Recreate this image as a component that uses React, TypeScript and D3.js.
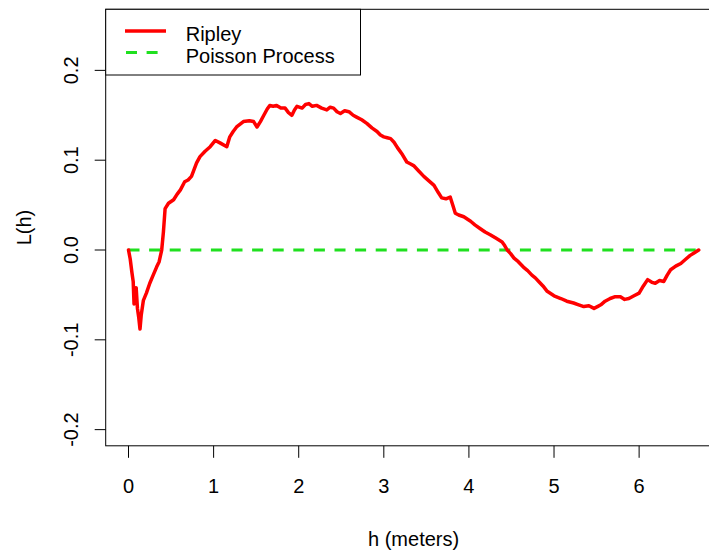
import React from "react";
import * as d3 from "d3";

const hValues = [0,0.02,0.04,0.055,0.065,0.075,0.09,0.105,0.12,0.135,0.15,0.175,0.21,0.25,0.29,0.33,0.36,0.39,0.41,0.43,0.47,0.53,0.57,0.61,0.66,0.70,0.74,0.80,0.84,0.90,0.96,1.02,1.08,1.155,1.19,1.23,1.27,1.35,1.42,1.47,1.51,1.55,1.59,1.63,1.66,1.70,1.74,1.79,1.84,1.88,1.92,1.95,1.98,2.04,2.08,2.12,2.16,2.21,2.27,2.33,2.37,2.41,2.45,2.49,2.54,2.59,2.64,2.68,2.74,2.80,2.86,2.92,2.96,3.00,3.04,3.08,3.12,3.16,3.22,3.27,3.31,3.35,3.41,3.47,3.53,3.59,3.64,3.68,3.73,3.78,3.81,3.84,3.88,3.94,4.02,4.07,4.13,4.19,4.25,4.32,4.39,4.42,4.45,4.49,4.53,4.58,4.64,4.69,4.74,4.78,4.82,4.87,4.92,5.00,5.08,5.15,5.23,5.29,5.35,5.41,5.47,5.51,5.55,5.60,5.66,5.72,5.78,5.83,5.88,5.94,6.00,6.05,6.10,6.15,6.19,6.24,6.29,6.33,6.37,6.43,6.49,6.55,6.60,6.65,6.70];
const ripleyValues = [0,-0.01,-0.025,-0.035,-0.06,-0.045,-0.042,-0.065,-0.075,-0.088,-0.072,-0.056,-0.048,-0.037,-0.028,-0.019,-0.013,0,0.02,0.046,0.052,0.056,0.062,0.067,0.076,0.078,0.082,0.097,0.104,0.110,0.115,0.122,0.119,0.115,0.126,0.132,0.137,0.143,0.144,0.143,0.137,0.143,0.150,0.157,0.161,0.160,0.161,0.158,0.158,0.153,0.150,0.156,0.160,0.158,0.162,0.163,0.160,0.161,0.158,0.156,0.159,0.158,0.154,0.152,0.155,0.154,0.150,0.148,0.145,0.141,0.136,0.132,0.128,0.126,0.125,0.124,0.120,0.114,0.106,0.098,0.096,0.094,0.088,0.082,0.077,0.072,0.064,0.058,0.057,0.059,0.050,0.041,0.039,0.037,0.032,0.028,0.024,0.020,0.017,0.013,0.009,0.005,0,-0.004,-0.009,-0.013,-0.019,-0.023,-0.028,-0.031,-0.035,-0.040,-0.046,-0.051,-0.054,-0.057,-0.059,-0.061,-0.063,-0.062,-0.065,-0.063,-0.061,-0.057,-0.054,-0.052,-0.052,-0.055,-0.054,-0.051,-0.048,-0.040,-0.033,-0.036,-0.037,-0.034,-0.035,-0.028,-0.022,-0.018,-0.015,-0.010,-0.006,-0.003,0];
const poissonH = [0, 6.7];
const poissonValues = [0, 0];
const xTicks = [0, 1, 2, 3, 4, 5, 6];
const yTicks = [-0.2, -0.1, 0.0, 0.1, 0.2];
const yTickLabels = ["-0.2", "-0.1", "0.0", "0.1", "0.2"];
const legendLabels = ["Ripley", "Poisson Process"];

const W = 709, H = 550;
const FONT = "'Liberation Sans', Arial, Helvetica, sans-serif";

export default function App() {
  const left = 105.7, right = 721.5, top = 9.3, bottom = 445.8;
  const x = d3.scaleLinear().domain([-0.268, 6.968]).range([left, right]);
  const y = d3.scaleLinear().domain([-0.218, 0.268]).range([bottom, top]);

  const ripley = hValues.map((h, i) => [h, ripleyValues[i]] as [number, number]);
  const poisson = poissonH.map((h, i) => [h, poissonValues[i]] as [number, number]);
  const line = d3.line<[number, number]>().x(d => x(d[0])).y(d => y(d[1]));

  return (
    <svg width={W} height={H} style={{ position: "absolute", left: 0, top: 0, background: "#fff" }} fontFamily={FONT}>
      <rect x={0} y={0} width={W} height={H} fill="#fff" />
      <defs>
        <clipPath id="plot">
          <rect x={left} y={top} width={right - left} height={bottom - top} />
        </clipPath>
      </defs>
      <g clipPath="url(#plot)">
        <path d={line(poisson) || ""} fill="none" stroke="#1fe01f" strokeWidth={3} strokeDasharray="11 9.6" />
        <path d={line(ripley) || ""} fill="none" stroke="#ff0000" strokeWidth={3.5} strokeLinejoin="round" strokeLinecap="round" />
      </g>
      <rect x={left} y={top} width={right - left} height={bottom - top} fill="none" stroke="#000" strokeWidth={1} />
      {xTicks.map(t => (
        <g key={"x" + t}>
          <line x1={x(t)} x2={x(t)} y1={bottom} y2={bottom + 12} stroke="#000" />
          <text x={x(t)} y={493} fontSize={20} textAnchor="middle" fill="#000">{String(t)}</text>
        </g>
      ))}
      {yTicks.map((t, i) => (
        <g key={"y" + t}>
          <line x1={left - 11} x2={left} y1={y(t)} y2={y(t)} stroke="#000" />
          <text transform={`translate(78,${y(t)}) rotate(-90)`} fontSize={20} textAnchor="middle" fill="#000">{yTickLabels[i]}</text>
        </g>
      ))}
      <text x={(left + right) / 2} y={546} fontSize={20} textAnchor="middle" fill="#000">h (meters)</text>
      <text transform={`translate(31,${(top + bottom) / 2}) rotate(-90)`} fontSize={20} textAnchor="middle" fill="#000">L(h)</text>
      <g>
        <rect x={left} y={top} width={360.5 - left} height={75 - top} fill="#fff" stroke="#000" strokeWidth={1} />
        <line x1={125} x2={166} y1={31} y2={31} stroke="#ff0000" strokeWidth={3.5} />
        <line x1={126} x2={166} y1={52.5} y2={52.5} stroke="#1fe01f" strokeWidth={3} strokeDasharray="11 9.6" />
        <text x={185.7} y={41} fontSize={20} fill="#000">{legendLabels[0]}</text>
        <text x={185.7} y={62.7} fontSize={20} fill="#000">{legendLabels[1]}</text>
      </g>
    </svg>
  );
}
